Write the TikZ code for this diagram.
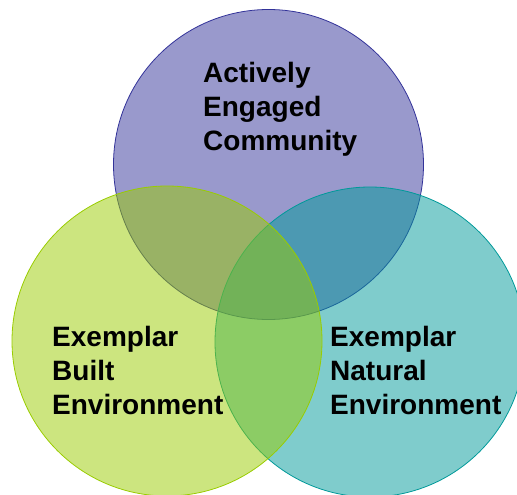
\documentclass[tikz,border=0pt]{standalone}
\usepackage{fontspec}
\setmainfont{Liberation Sans}
\usetikzlibrary{positioning}
\definecolor{commblue}{HTML}{333399}
\definecolor{builtgreen}{HTML}{99CC00}
\definecolor{natteal}{HTML}{009999}
\tikzset{
  venn/.style={
    circle,
    minimum size=310pt,
    inner sep=0pt,
    line width=0.8pt,
    fill opacity=0.5,
    draw=#1,
    fill=#1
  },
  lbl/.style={
    anchor=north west,
    align=left,
    inner sep=0pt,
    font=\fontsize{28}{34}\selectfont\bfseries
  }
}
\begin{document}
\begin{tikzpicture}[x=1pt,y=-1pt]
\useasboundingbox (0,0) rectangle (517,495);

% the three sets
\node[venn=commblue] (comm) at (268.5,164.5) {};
\node[venn=natteal] (nat) at (370,342) {};
\node[venn=builtgreen] (built) at (167,341) {};

% their names
\node[lbl] (commtxt) at (203,62) {Actively\\Engaged\\Community};
\node[lbl] (builttxt) at (52,326) {Exemplar\\Built\\Environment};
\node[lbl] (nattxt) at (330,326) {Exemplar\\Natural\\Environment};

\end{tikzpicture}
\end{document}
